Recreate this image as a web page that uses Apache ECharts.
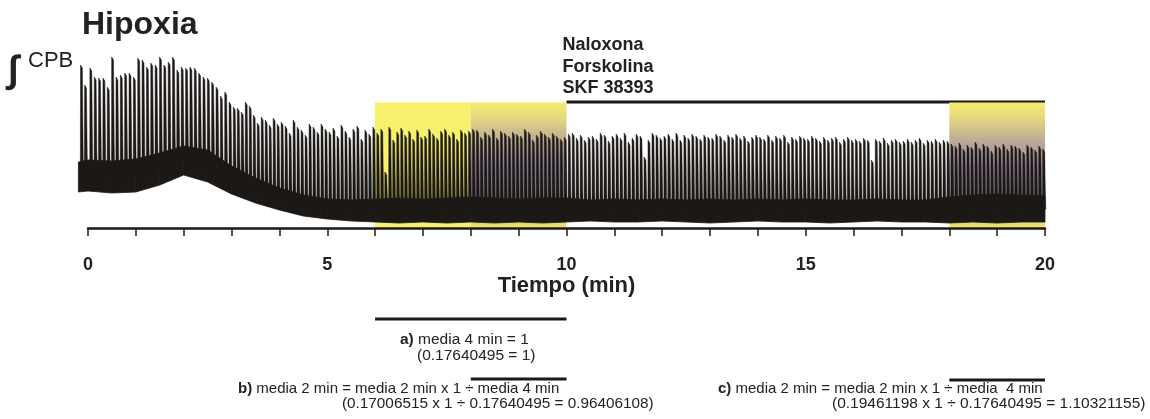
<!DOCTYPE html>
<html>
<head>
<meta charset="utf-8">
<title>Hipoxia</title>
<script src="https://cdn.jsdelivr.net/npm/echarts@6/dist/echarts.min.js"></script>
<style>
  html, body { margin: 0; padding: 0; background: #ffffff; }
  #chart { width: 1150px; height: 419px; }
</style>
</head>
<body>
<div id="chart"></div>
<script>
const FONT = '"Liberation Sans", Arial, Helvetica, sans-serif';
const INK = '#1c1816';
const TEXT = '#222222';

// Integrated CPB burst amplitudes (a.u.) - the two bursts recorded just before t = 0
const peaksBeforeZero = [16.3, 14.3];
// Burst amplitudes, one list per minute of recording (minute 0 ... minute 19)
const peaksByMinute = [
  [16.0, 15.1, 15.0, 15.0, 14.1, 17.1, 15.1, 15.3, 15.5, 15.5, 15.1],
  [17.0, 16.8, 16.1, 16.5, 16.3, 17.1, 16.3, 16.6, 17.1, 15.8, 16.1],
  [16.0, 16.1, 16.0, 15.5, 15.1, 15.0, 14.6, 14.1, 13.2, 13.6, 12.6],
  [12.1, 12.0, 11.6, 12.6, 12.2, 11.3, 10.5, 11.1, 10.8, 10.3, 11.0, 10.4],
  [10.6, 10.2, 9.5, 10.8, 10.1, 9.8, 9.3, 10.4, 10.1, 9.6, 10.4, 9.9],
  [9.6, 10.0, 9.2, 10.3, 9.7, 9.1, 9.9, 10.2, 8.9, 9.8, 9.4, 10.1],
  [9.5, 9.9, 5.6, 10.1, 8.8, 9.6, 10.0, 9.3, 9.7, 8.9, 9.8, 9.1],
  [9.2, 9.9, 9.4, 9.0, 9.7, 9.9, 9.3, 9.6, 8.9, 9.8, 9.5, 9.7],
  [9.9, 9.8, 9.1, 9.6, 9.3, 9.9, 9.0, 9.7, 9.5, 9.2, 9.6, 9.4],
  [9.2, 9.9, 9.6, 8.8, 9.3, 9.7, 9.4, 9.1, 9.5, 9.2, 8.9, 9.1],
  [9.4, 9.5, 9.0, 9.3, 8.8, 9.1, 9.2, 8.9, 9.5, 9.3, 8.7, 9.2],
  [9.4, 9.0, 9.5, 8.6, 9.0, 9.4, 9.2, 7.1, 8.8, 9.5, 9.3, 9.0],
  [9.2, 9.4, 8.9, 9.5, 8.8, 9.3, 9.0, 9.4, 9.2, 8.9, 9.3, 9.1],
  [9.0, 9.4, 9.2, 8.8, 9.3, 9.1, 9.4, 9.0, 9.2, 8.7, 9.1, 9.3],
  [9.1, 8.9, 9.3, 8.8, 9.2, 9.0, 9.3, 8.6, 9.1, 8.9, 9.2, 9.0],
  [8.9, 9.2, 9.0, 8.7, 9.1, 8.8, 9.0, 9.1, 8.6, 8.9, 9.1, 8.8],
  [8.9, 8.7, 9.0, 8.8, 6.8, 8.9, 8.7, 9.0, 8.5, 8.8, 8.9, 8.6],
  [8.7, 8.9, 8.6, 8.8, 9.0, 8.5, 8.8, 8.7, 8.9, 8.6, 8.8, 8.7],
  [8.4, 8.2, 8.5, 7.9, 8.3, 8.1, 8.6, 8.0, 8.4, 8.2, 7.7, 8.3],
  [8.1, 8.4, 7.9, 8.3, 8.2, 8.0, 7.6, 8.3, 8.1, 7.8, 8.2, 7.9]
];

// Tonic activity band between bursts: lower and upper edge at each sample time (min)
const bandTimes = [-0.2, 0, 0.5, 1, 1.5, 2, 2.5, 3, 3.5, 4, 4.5, 5, 5.5, 6, 6.5, 7, 7.5, 8, 8.5, 9, 9.5,
  10, 10.5, 11, 11.5, 12, 12.5, 13, 13.5, 14, 14.5, 15, 15.5, 16, 16.5, 17, 17.5, 18, 18.5, 19, 19.5, 20];
const bandLow = [3.6, 3.7, 3.5, 3.6, 4.3, 5.3, 4.6, 3.4, 2.5, 1.8, 1.2, 0.9, 0.7, 0.6, 0.5, 0.6, 0.5, 0.6, 0.5, 0.6, 0.5,
  0.6, 0.7, 0.6, 0.6, 0.7, 0.6, 0.5, 0.6, 0.7, 0.6, 0.6, 0.5, 0.6, 0.7, 0.6, 0.6, 0.5, 0.6, 0.5, 0.6, 0.6];
const bandTop = [6.6, 6.8, 6.7, 6.9, 7.5, 8.2, 7.8, 6.2, 5.0, 4.0, 3.3, 2.9, 2.8, 2.9, 3.0, 2.9, 3.0, 3.1, 3.0, 2.9, 3.0,
  3.0, 2.8, 2.9, 2.8, 2.9, 2.8, 2.9, 2.8, 2.9, 2.8, 2.9, 2.8, 2.8, 2.9, 2.8, 2.8, 3.1, 3.3, 3.4, 3.3, 3.2];

// Axis labels and annotated periods (min)
const tickLabels = [0, 5, 10, 15, 20];
const shadeSpans = [[6, 8], [8, 10], [18, 20]];
const shadeKinds = ['plain', 'mixed', 'mixed'];
const shadeTop = 12.55;
const drugSpan = [10, 20];
const drugLevel = 12.6;
const drugNames = ['Naloxona', 'Forskolina', 'SKF 38393'];
const windowA = [6, 10];
const windowB = [8, 10];
const windowC = [18, 20];

// Burst list: [time, peak, base] - bursts spread over their minute
function nearestBand(t) {
  let best = 0;
  for (let i = 1; i < bandTimes.length; i++) {
    if (Math.abs(bandTimes[i] - t) < Math.abs(bandTimes[best] - t)) best = i;
  }
  return (bandLow[best] + bandTop[best]) / 2;
}
const bursts = [];
peaksBeforeZero.forEach((p, i) => {
  const t = -0.16 + i * 0.085;
  bursts.push([t, p, nearestBand(t)]);
});
peaksByMinute.forEach((list, m) => {
  list.forEach((p, i) => {
    const t = m + (i + 0.4) / list.length;
    bursts.push([t, p, nearestBand(t)]);
  });
});

// Band segments between consecutive samples: [t0, t1, low0, low1, top0, top1]
const bandSegments = [];
for (let i = 0; i < bandTimes.length - 1; i++) {
  bandSegments.push([bandTimes[i], bandTimes[i + 1], bandLow[i], bandLow[i + 1], bandTop[i], bandTop[i + 1]]);
}

const yellow = '#f6f06c';
function mixedFill() {
  return new echarts.graphic.LinearGradient(0, 0, 0, 1, [
    { offset: 0, color: '#f3ec6e' },
    { offset: 0.1, color: '#e8dd7e' },
    { offset: 0.32, color: '#b9a895' },
    { offset: 0.52, color: '#9a89a6' },
    { offset: 0.8, color: '#a697a0' },
    { offset: 0.93, color: '#dacd80' },
    { offset: 1, color: '#f1e96a' }
  ]);
}

const chart = echarts.init(document.getElementById('chart'), null, { renderer: 'canvas' });

chart.setOption({
  animation: false,
  backgroundColor: '#ffffff',
  grid: { left: 88, right: 105, top: 48, bottom: 191 },
  xAxis: {
    type: 'value', min: 0, max: 20, interval: 1, z: 10,
    axisLine: { lineStyle: { color: INK, width: 2.5 } },
    axisTick: { length: 8, lineStyle: { color: INK, width: 1.5 } },
    axisLabel: {
      margin: 28, fontFamily: FONT, fontSize: 18, fontWeight: 'bold', color: TEXT,
      formatter: v => (tickLabels.indexOf(v) >= 0 ? String(v) : '')
    },
    splitLine: { show: false },
    name: 'Tiempo (min)', nameLocation: 'middle', nameGap: 46,
    nameTextStyle: { fontFamily: FONT, fontSize: 22, fontWeight: 'bold', color: TEXT }
  },
  yAxis: { type: 'value', min: 0, max: 18, show: false },
  series: [
    {
      // drug application periods
      type: 'custom', z: 1, silent: true, clip: false,
      data: shadeSpans.map((s, i) => [s[0], s[1], shadeTop, i]),
      encode: { x: [0, 1], y: 2 },
      renderItem: (params, api) => {
        const p0 = api.coord([api.value(0), 0]);
        const p1 = api.coord([api.value(1), api.value(2)]);
        const kind = shadeKinds[api.value(3)];
        return {
          type: 'rect',
          shape: { x: p0[0], y: p1[1], width: p1[0] - p0[0], height: p0[1] - p1[1] },
          style: { fill: kind === 'plain' ? yellow : mixedFill() }
        };
      }
    },
    {
      // tonic band
      type: 'custom', z: 2, silent: true, clip: false,
      data: bandSegments,
      encode: { x: [0, 1], y: [2, 4] },
      renderItem: (params, api) => {
        const t0 = api.value(0), t1 = api.value(1);
        const pts = [
          api.coord([t0, api.value(2)]),
          api.coord([t1, api.value(3)]),
          api.coord([t1, api.value(5)]),
          api.coord([t0, api.value(4)])
        ];
        return { type: 'polygon', shape: { points: pts }, style: { fill: INK, stroke: INK, lineWidth: 0.8 } };
      }
    },
    {
      // inspiratory bursts
      type: 'custom', z: 3, silent: true, clip: false,
      data: bursts,
      encode: { x: 0, y: 1 },
      renderItem: (params, api) => {
        const t = api.value(0), p = api.value(1), b = api.value(2);
        const pts = [
          api.coord([t, b]),
          api.coord([t + 0.004, p]),
          api.coord([t + 0.042, p - 0.3]),
          api.coord([t + 0.058, b + (p - b) * 0.25]),
          api.coord([t + 0.066, b])
        ];
        return { type: 'polygon', shape: { points: pts }, style: { fill: INK, stroke: INK, lineWidth: 0.5 } };
      }
    }
  ]
});

// Labels, drug bar and averaging windows placed through the x scale
const px = t => chart.convertToPixel({ gridIndex: 0 }, [t, 0])[0];
const py = v => chart.convertToPixel({ gridIndex: 0 }, [0, v])[1];
const plainText = (x, y, text, size, weight) => ({
  type: 'text', x, y, silent: true,
  style: { text, fontFamily: FONT, fill: TEXT, fontSize: size, fontWeight: weight || 'normal', verticalAlign: 'middle' }
});
const richText = (x, y, tag, rest, size) => ({
  type: 'text', x, y, silent: true,
  style: {
    text: '{b|' + tag + '}{n|' + rest + '}', verticalAlign: 'middle', fill: TEXT,
    rich: {
      b: { fontFamily: FONT, fontSize: size, fontWeight: 'bold', fill: TEXT },
      n: { fontFamily: FONT, fontSize: size, fill: TEXT }
    }
  }
});
const bar = (t0, t1, y, w) => ({
  type: 'line', silent: true,
  shape: { x1: px(t0), y1: y, x2: px(t1), y2: y },
  style: { stroke: INK, lineWidth: w }
});

const graphics = [
  plainText(82, 25, 'Hipoxia', 32, 'bold'),
  plainText(8, 72, '\u222B', 38, 'bold'),
  plainText(28, 61, 'CPB', 22, 'normal'),
  bar(drugSpan[0], drugSpan[1], py(drugLevel), 3),
  bar(windowA[0], windowA[1], 319, 3),
  bar(windowB[0], windowB[1], 379, 3),
  bar(windowC[0], windowC[1], 380, 3),
  richText(400, 340, 'a)', ' media 4 min = 1', 15.5),
  plainText(417, 356, '(0.17640495 = 1)', 15.5),
  richText(238, 389, 'b)', ' media 2 min = media 2 min x 1 \u00F7 media 4 min', 15),
  plainText(342, 404, '(0.17006515 x 1 \u00F7 0.17640495 = 0.96406108)', 15.3),
  richText(718, 389, 'c)', ' media 2 min = media 2 min x 1 \u00F7 media  4 min', 15),
  plainText(832, 404, '(0.19461198 x 1 \u00F7 0.17640495 = 1.10321155)', 15.5)
];
drugNames.forEach((name, i) => {
  graphics.push(plainText(px(drugSpan[0]) - 4, 45 + i * 21.7, name, 18, 'bold'));
});
chart.setOption({ graphic: graphics });
</script>
</body>
</html>
